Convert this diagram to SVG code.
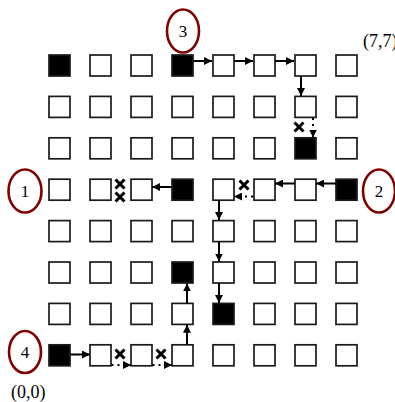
<svg xmlns="http://www.w3.org/2000/svg" width="395" height="402" viewBox="0 0 395 402">
<style>
.sq{fill:#fff;stroke:#1a1a1a;stroke-width:1.7}
.blk{fill:#000;stroke:#1a1a1a;stroke-width:1.7}
.arr{stroke:#000;stroke-width:2;fill:none;marker-end:url(#ah)}
.dot{stroke:#000;stroke-width:2;fill:none;stroke-dasharray:2 4;marker-end:url(#ah)}
.x{stroke:#000;stroke-width:3;fill:none}
.lbl{fill:none;stroke:#800000;stroke-width:2.6}
text{font-family:"Liberation Serif",serif;fill:#000}
.n{font-size:17px;text-anchor:middle}
.c{font-size:18px}
</style>
<defs>
<marker id="ah" viewBox="0 0 10 10" refX="10" refY="5" markerUnits="userSpaceOnUse" markerWidth="8" markerHeight="8" orient="auto">
<path d="M0,0 L10,5 L0,10 z" fill="#000"/>
</marker>
<path id="xm" d="M-4.5,-4.5 L4.5,4.5 M-4.5,4.5 L4.5,-4.5"/>
</defs>
<g id="grid">
<g id="row0">
<rect class="blk" x="49" y="55" width="21" height="21"/><rect class="sq" x="90" y="55" width="21" height="21"/><rect class="sq" x="131" y="55" width="21" height="21"/><rect class="blk" x="172" y="55" width="21" height="21"/><rect class="sq" x="213" y="55" width="21" height="21"/><rect class="sq" x="254" y="55" width="21" height="21"/><rect class="sq" x="295" y="55" width="21" height="21"/><rect class="sq" x="336" y="55" width="21" height="21"/>
</g>
<g id="row1">
<rect class="sq" x="49" y="96.4" width="21" height="21"/><rect class="sq" x="90" y="96.4" width="21" height="21"/><rect class="sq" x="131" y="96.4" width="21" height="21"/><rect class="sq" x="172" y="96.4" width="21" height="21"/><rect class="sq" x="213" y="96.4" width="21" height="21"/><rect class="sq" x="254" y="96.4" width="21" height="21"/><rect class="sq" x="295" y="96.4" width="21" height="21"/><rect class="sq" x="336" y="96.4" width="21" height="21"/>
</g>
<g id="row2">
<rect class="sq" x="49" y="137.8" width="21" height="21"/><rect class="sq" x="90" y="137.8" width="21" height="21"/><rect class="sq" x="131" y="137.8" width="21" height="21"/><rect class="sq" x="172" y="137.8" width="21" height="21"/><rect class="sq" x="213" y="137.8" width="21" height="21"/><rect class="sq" x="254" y="137.8" width="21" height="21"/><rect class="blk" x="295" y="137.8" width="21" height="21"/><rect class="sq" x="336" y="137.8" width="21" height="21"/>
</g>
<g id="row3">
<rect class="sq" x="49" y="179.2" width="21" height="21"/><rect class="sq" x="90" y="179.2" width="21" height="21"/><rect class="sq" x="131" y="179.2" width="21" height="21"/><rect class="blk" x="172" y="179.2" width="21" height="21"/><rect class="sq" x="213" y="179.2" width="21" height="21"/><rect class="sq" x="254" y="179.2" width="21" height="21"/><rect class="sq" x="295" y="179.2" width="21" height="21"/><rect class="blk" x="336" y="179.2" width="21" height="21"/>
</g>
<g id="row4">
<rect class="sq" x="49" y="220.6" width="21" height="21"/><rect class="sq" x="90" y="220.6" width="21" height="21"/><rect class="sq" x="131" y="220.6" width="21" height="21"/><rect class="sq" x="172" y="220.6" width="21" height="21"/><rect class="sq" x="213" y="220.6" width="21" height="21"/><rect class="sq" x="254" y="220.6" width="21" height="21"/><rect class="sq" x="295" y="220.6" width="21" height="21"/><rect class="sq" x="336" y="220.6" width="21" height="21"/>
</g>
<g id="row5">
<rect class="sq" x="49" y="262" width="21" height="21"/><rect class="sq" x="90" y="262" width="21" height="21"/><rect class="sq" x="131" y="262" width="21" height="21"/><rect class="blk" x="172" y="262" width="21" height="21"/><rect class="sq" x="213" y="262" width="21" height="21"/><rect class="sq" x="254" y="262" width="21" height="21"/><rect class="sq" x="295" y="262" width="21" height="21"/><rect class="sq" x="336" y="262" width="21" height="21"/>
</g>
<g id="row6">
<rect class="sq" x="49" y="303.4" width="21" height="21"/><rect class="sq" x="90" y="303.4" width="21" height="21"/><rect class="sq" x="131" y="303.4" width="21" height="21"/><rect class="sq" x="172" y="303.4" width="21" height="21"/><rect class="blk" x="213" y="303.4" width="21" height="21"/><rect class="sq" x="254" y="303.4" width="21" height="21"/><rect class="sq" x="295" y="303.4" width="21" height="21"/><rect class="sq" x="336" y="303.4" width="21" height="21"/>
</g>
<g id="row7">
<rect class="blk" x="49" y="344.8" width="21" height="21"/><rect class="sq" x="90" y="344.8" width="21" height="21"/><rect class="sq" x="131" y="344.8" width="21" height="21"/><rect class="sq" x="172" y="344.8" width="21" height="21"/><rect class="sq" x="213" y="344.8" width="21" height="21"/><rect class="sq" x="254" y="344.8" width="21" height="21"/><rect class="sq" x="295" y="344.8" width="21" height="21"/><rect class="sq" x="336" y="344.8" width="21" height="21"/>
</g>
</g>
<g id="connectors">
<path class="arr" d="M193,61 H212"/>
<path class="arr" d="M234,61 H253"/>
<path class="arr" d="M275,61 H294"/>
<path class="arr" d="M301,76 V96"/>
<path class="dot" d="M313,118 V137.5"/>
<path class="arr" d="M336,183.5 H316"/>
<path class="arr" d="M295,183.5 H275"/>
<path class="dot" d="M253,196.5 H234"/>
<path class="arr" d="M219,200.2 V220"/>
<path class="arr" d="M219,241.6 V261.5"/>
<path class="arr" d="M219,283 V303"/>
<path class="arr" d="M172,187 H152"/>
<path class="arr" d="M70,354.5 H90"/>
<path class="dot" d="M111.5,365 H131"/>
<path class="dot" d="M152.5,365 H172"/>
<path class="arr" d="M187,344.8 V324.8"/>
<path class="arr" d="M187,303.4 V283.4"/>
</g>
<g id="blocks">
<use href="#xm" class="x" x="299" y="127"/>
<use href="#xm" class="x" x="244" y="185"/>
<use href="#xm" class="x" x="120" y="184"/>
<use href="#xm" class="x" x="120" y="197"/>
<use href="#xm" class="x" x="120" y="354"/>
<use href="#xm" class="x" x="161" y="354"/>
</g>
<g id="label1"><ellipse class="lbl" cx="25" cy="191" rx="16.5" ry="21.5"/><text class="n" x="25" y="197">1</text></g>
<g id="label2"><ellipse class="lbl" cx="379" cy="191" rx="16" ry="21.5"/><text class="n" x="379" y="197">2</text></g>
<g id="label3"><ellipse class="lbl" cx="183" cy="31" rx="16" ry="21.5"/><text class="n" x="183" y="37">3</text></g>
<g id="label4"><ellipse class="lbl" cx="25" cy="352" rx="16" ry="21"/><text class="n" x="25" y="358">4</text></g>
<text class="c" x="363" y="47">(7,7)</text>
<text class="c" x="11" y="398">(0,0)</text>
</svg>
